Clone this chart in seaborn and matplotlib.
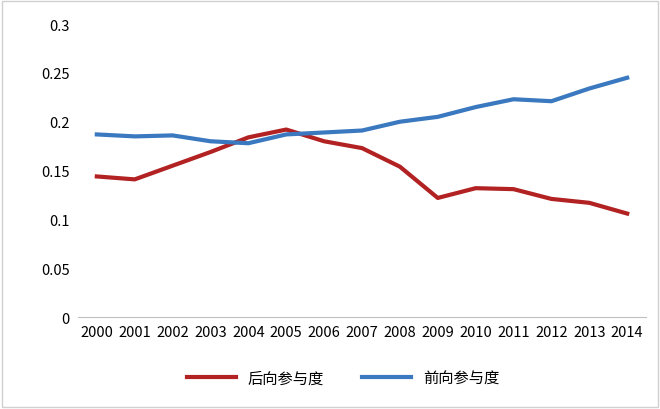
import matplotlib
matplotlib.use("Agg")
import matplotlib.pyplot as plt
import seaborn as sns
import pandas as pd

years = list(range(2000, 2015))
backward = [0.144, 0.141, 0.155, 0.169, 0.184, 0.192, 0.180, 0.173, 0.154, 0.122, 0.132, 0.131, 0.121, 0.117, 0.106]
forward = [0.187, 0.185, 0.186, 0.180, 0.178, 0.187, 0.189, 0.191, 0.200, 0.205, 0.215, 0.223, 0.221, 0.234, 0.245]
names = ["后向参与度", "前向参与度"]
yticks = [0, 0.05, 0.1, 0.15, 0.2, 0.25, 0.3]
ylabels = ["0", "0.05", "0.1", "0.15", "0.2", "0.25", "0.3"]

df = pd.DataFrame({"year": years * 2,
                   "value": backward + forward,
                   "series": [names[0]] * len(years) + [names[1]] * len(years)})

plt.rcParams["font.family"] = "Noto Sans CJK SC"
fig = plt.figure(figsize=(6.6, 4.1), dpi=100)
ax = fig.add_axes([0.118, 0.224, 0.861, 0.715])
sns.lineplot(data=df, x="year", y="value", hue="series",
             palette=["#b22222", "#3a78bf"], linewidth=3, ax=ax, legend=False)
ax.set_xlim(1999.5, 2014.5)
ax.set_ylim(0, 0.3)
ax.set_xticks(years)
ax.set_xticklabels([str(y) for y in years], fontsize=10.5)
ax.set_yticks(yticks)
ax.set_yticklabels(ylabels, fontsize=10.5)
ax.tick_params(length=0, pad=6)
ax.set_xlabel("")
ax.set_ylabel("")
for s in ["top", "right", "left"]:
    ax.spines[s].set_visible(False)
ax.spines["bottom"].set_color("#bfbfbf")
handles = [plt.Line2D([], [], color=c, lw=3) for c in ["#b22222", "#3a78bf"]]
fig.legend(handles, names, loc="center", bbox_to_anchor=(0.52, 0.075), ncol=2,
           frameon=False, fontsize=11, handlelength=3.2, columnspacing=2.5)
fig.patches.append(plt.Rectangle((0.003, 0.005), 0.994, 0.99, transform=fig.transFigure,
                                 fill=False, edgecolor="#d0d0d0", lw=1))
fig.savefig("out.png", dpi=100)
